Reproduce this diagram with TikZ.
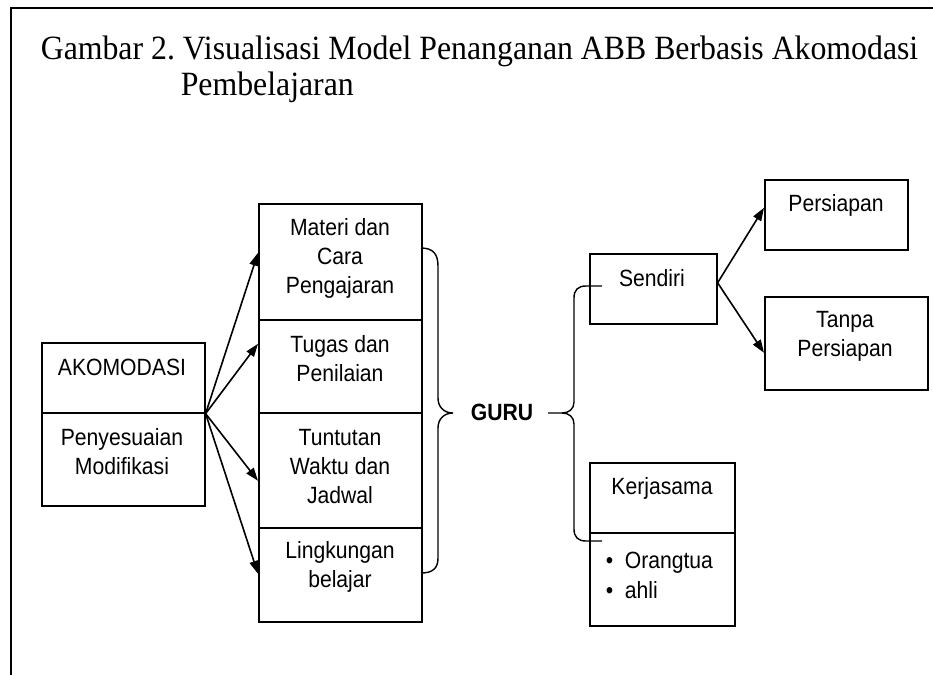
\documentclass[tikz,border=0pt]{standalone}
\usepackage{fontspec}
\setmainfont{Liberation Serif}[FakeStretch=0.935]
\setsansfont{Liberation Sans}[FakeStretch=0.9]
\usetikzlibrary{arrows.meta}
\frenchspacing
\begin{document}
\begin{tikzpicture}[x=1pt,y=-1pt,line width=1.6pt,>={Triangle[length=13pt,width=9pt]},
  box/.style={draw,anchor=north west,inner sep=0pt,minimum width=#1},
  txt/.style={font=\sffamily\fontsize{23.5}{29}\selectfont,align=center,inner sep=0pt},
  captxt/.style={font=\fontsize{34}{35}\selectfont,anchor=base west,inner sep=0pt},
  brc/.style={line width=1.4pt}]
\useasboundingbox (0,0) rectangle (933,675);
\draw[line width=2.2pt] (933,8) -- (11,8) -- (11,675);
\node[captxt] (cap1) at (40,59) {Gambar 2. Visualisasi Model Penanganan ABB Berbasis Akomodasi};
\node[captxt] (cap2) at (180,95) {Pembelajaran};
% akomodasi
\node[box=163,minimum height=70] (akoa) at (41,342) {};
\node[box=163,minimum height=93] (akob) at (41,412) {};
\node[txt] (akoat) at (122,367) {AKOMODASI};
\node[txt] (akobt) at (122,452) {Penyesuaian\\Modifikasi};
% column
\node[box=163,minimum height=116] (seg1) at (258,203) {};
\node[box=163,minimum height=93] (seg2) at (258,319) {};
\node[box=163,minimum height=115] (seg3) at (258,412) {};
\node[box=163,minimum height=94] (seg4) at (258,527) {};
\node[txt] (seg1t) at (340,258) {Materi dan\\Cara\\Pengajaran};
\node[txt] (seg2t) at (340,359) {Tugas dan\\Penilaian};
\node[txt] (seg3t) at (340,467) {Tuntutan\\Waktu dan\\Jadwal};
\node[txt] (seg4t) at (340,567) {Lingkungan\\belajar};
\foreach \s/\d in {seg1/9,seg2/22.5,seg3/-10.5,seg4/1}{\draw[->] (akoa.south east) -- ([yshift=\d pt]\s.west);};
% guru
\node[txt,font=\sffamily\bfseries\fontsize{23.5}{29}\selectfont] (guru) at (502,412) {GURU};
\draw[brc] (421,248) .. controls (433,248) and (438,254) .. (438,266) -- (438,398)
  .. controls (438,407) and (444,413) .. (453,413) .. controls (444,413) and (438,419) .. (438,428)
  -- (438,558) .. controls (438,568) and (433,573) .. (421,573);
\draw[brc] (602,286) -- (586,286) .. controls (578,286) and (574,290) .. (574,298) -- (574,402)
  .. controls (574,409) and (569,413) .. (562,413) -- (548,413);
\draw[brc] (562,413) .. controls (569,413) and (574,417) .. (574,424) -- (574,529)
  .. controls (574,537) and (578,541) .. (586,541) -- (602,541);
% right side
\node[box=127,minimum height=70] (sendiri) at (589,253) {};
\node[txt] (sendirit) at (652,278) {Sendiri};
\node[box=143,minimum height=70] (pers) at (764,179) {};
\node[txt] (perst) at (836,205) {Persiapan};
\node[box=163,minimum height=93] (tanpa) at (764,296) {};
\node[txt] (tanpat) at (845,336) {Tanpa\\Persiapan};
\draw[->] ([yshift=6pt]sendiri.east) -- ([yshift=7pt]pers.west);
\draw[->] ([yshift=6pt]sendiri.east) -- ([yshift=-9.5pt]tanpa.west);
\node[box=145,minimum height=70] (kerja) at (589,462) {};
\node[box=145,minimum height=93] (kerjab) at (589,532) {};
\node[txt] (kerjat) at (662,488) {Kerjasama};
\node[txt,align=left,anchor=west,font=\sffamily\fontsize{23.5}{30}\selectfont] (kerjabt) at (605,575)
  {\makebox[19pt][l]{\textbullet}Orangtua\\\makebox[19pt][l]{\textbullet}ahli};
\end{tikzpicture}
\end{document}
